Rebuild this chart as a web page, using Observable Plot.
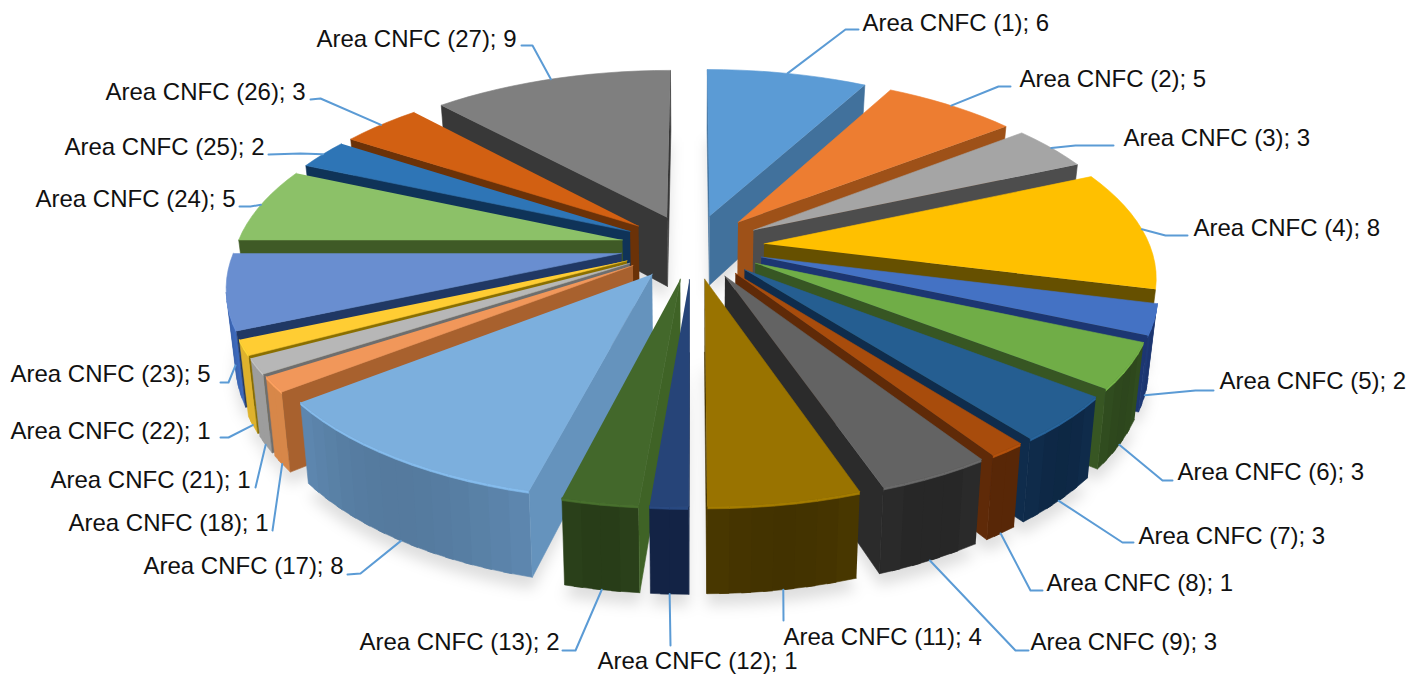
<!DOCTYPE html>
<html><head><meta charset="utf-8">
<style>html,body{margin:0;padding:0;background:#fff}</style>
<script src="https://cdn.jsdelivr.net/npm/d3@7"></script>
<script src="https://cdn.jsdelivr.net/npm/@observablehq/plot@0.6"></script>
</head><body><div id="chart"></div>
<script>
// --- data
const areaIds = [1,2,3,4,5,6,7,8,9,11,12,13,17,18,21,22,23,24,25,26,27];
const values  = [6,5,3,8,2,3,3,1,3,4,1,2,8,1,1,1,5,5,2,3,9];
// --- colours (top face, radial faces, outer wall)
const topColors  = ["#5B9BD5","#ED7D31","#A5A5A5","#FFC000","#4472C4","#70AD47","#255E91","#A84C0C","#636363","#997300","#264478","#43682B","#7CAFDD","#F1975A","#B7B7B7","#FFCD33","#698ED0","#8CC168","#2E75B6","#D26012","#7F7F7F"];
const sideColors = ["#41719C","#9E5118","#4D4D4D","#665000","#1C3672","#375623","#0F2C4C","#5F2A08","#2B2B2B","#4A3800","#14264A","#3F6326","#6593BD","#A8612E","#6E6E6E","#8A6F00","#203864","#3F5A26","#0F3358","#6B3208","#383838"];
const rimColors  = ["#41719C","#9E5118","#4D4D4D","#8A6C00","#1F3B7A","#324E20","#0F2C4C","#5F2A08","#2B2B2B","#4A3800","#14264A","#2C431B","#5E88B0","#E8914F","#A9A9A9","#EFC030","#3F6CBF","#3F5A26","#0F3358","#6B3208","#383838"];
// --- label layout: text left, text middle, leader elbow, leader end
const labelX = [862,1019,1123,1193,1219,1177,1138,1046,1030,783,597,359,143,68,50,10,10,35,64,105,316];
const labelY = [23,79,138,228,381,472,536,583,642,637,661,642,566,523,480,431,374,199,147,92,39];
const elbowX = [845,998,1075,1165,1195,1162,1122,1030,1015,783,670,575,360,272,255,228,228,250,300,320,532];
const elbowY = [29,86,145,235,390,480,542,590,650,620,645,650,573,530,487,437,382,206,153,98,45];
const endX   = [858,1010,1113,1187,1213,1172,1133,1042,1028,783,670,562,347,272,255,220,220,239,268,310,521];
const endY   = [29,86,145,235,390,480,542,590,650,620,645,650,574,530,487,437,382,206,154,99,45];
// --- view of the tilted pie
const cx=692, cy=246, B=400, A=179, k=0.16, H=71, explode=0.18, xRadius=0.965;

const total=d3.sum(values);
const project=(X,Y,z)=>{const d=1+k*Y;const px=cx+B*X/d;
  return [cx+(px-cx)*(1-0.02*z), cy-A*Y/d+z*H/d];};
let acc=0;
const slices=values.map((v,i)=>{const a0=acc/total*2*Math.PI;acc+=v;const a1=acc/total*2*Math.PI;
  return {i,a0,a1,b:(a0+a1)/2};});
const pt=(s,r,a,z)=>project(xRadius*r*Math.sin(a)+explode*Math.sin(s.b), r*Math.cos(a)+explode*Math.cos(s.b), z);
const arcAngles=s=>{const n=Math.max(2,Math.ceil((s.a1-s.a0)/0.05));return d3.range(n+1).map(j=>s.a0+(s.a1-s.a0)*j/n);};
const area2=p=>d3.sum(p,(q,j)=>{const n=p[(j+1)%p.length];return q[0]*n[1]-n[0]*q[1];});

const faces=[], shadows=[]; let fid=0;
const add=(pts,color,list=faces)=>{fid++;pts.forEach(p=>list.push({id:fid,x:p[0],y:p[1],color}));};
slices.slice().sort((p,q)=>Math.cos(q.b)-Math.cos(p.b)).forEach(s=>{
  const top=topColors[s.i], side=sideColors[s.i], rim=rimColors[s.i];
  const A_=arcAngles(s);
  add([pt(s,0,0,1),...A_.map(a=>pt(s,1,a,1))],"#000",shadows);
  const startFace=[pt(s,0,0,0),pt(s,1,s.a0,0),pt(s,1,s.a0,1),pt(s,0,0,1)];
  const endFace=[pt(s,0,0,0),pt(s,1,s.a1,0),pt(s,1,s.a1,1),pt(s,0,0,1)];
  const pairs=d3.pairs(A_);
  const visible=pairs.filter(([a,b])=>area2([pt(s,1,a,0),pt(s,1,b,0),pt(s,1,b,1),pt(s,1,a,1)])<0);
  const lap=0.02;
  visible.forEach(([a,b])=>{
    const b2=Math.min(b+lap,s.a1);
    const t=(a+b)/2;
    const shade=d3.interpolateRgb(rim,d3.color(rim).darker(0.3))(Math.sin((t-s.a0)/(s.a1-s.a0)*Math.PI));
    add([pt(s,1,a,0),pt(s,1,b2,0),pt(s,1,b2,1),pt(s,1,a,1)],d3.color(shade).formatHex());
  });
  visible.forEach(([a,b])=>{
    add([pt(s,1,a,0),pt(s,1,b,0),pt(s,1,b,0.03),pt(s,1,a,0.03)],d3.color(top).brighter(0.2).formatHex());
  });
  if(area2(startFace)<=0) add(startFace,side);
  if(area2(endFace)>0) add(endFace,side);
  add([pt(s,0,0,0),...A_.map(a=>pt(s,1,a,0))],top);
});

const leaders=[];
slices.forEach(s=>{
  const front=Math.cos(s.b)<0;
  const p=pt(s,1,s.b,front?1:0);
  [[p[0],p[1]],[elbowX[s.i],elbowY[s.i]],[endX[s.i],endY[s.i]]].forEach(q=>leaders.push({id:s.i,x:q[0],y:q[1]}));
});
const labels=areaIds.map((id,i)=>({text:`Area CNFC (${id}); ${values[i]}`,x:labelX[i],y:labelY[i]}));

const chart=Plot.plot({
  width:1423,height:675,margin:0,
  x:{axis:null,domain:[0,1423],range:[0,1423]},
  y:{axis:null,domain:[0,675],range:[0,675]},
  color:{type:"identity"},
  marks:[
    Plot.line(shadows,{x:d=>d.x,y:d=>d.y+12,z:"id",fill:"#000",fillOpacity:0.13,stroke:"none",imageFilter:"blur(7px)"}),
    Plot.line(faces,{x:"x",y:"y",z:"id",fill:"color",stroke:"color",strokeWidth:0.6}),
    Plot.line(leaders,{x:"x",y:"y",z:"id",stroke:"#5B9BD5",strokeWidth:2}),
    Plot.text(labels,{x:"x",y:"y",text:"text",textAnchor:"start",lineAnchor:"middle",fontSize:24,fontFamily:"Liberation Sans",fill:"#111"})
  ]
});
document.getElementById("chart").appendChild(chart);
</script></body></html>
